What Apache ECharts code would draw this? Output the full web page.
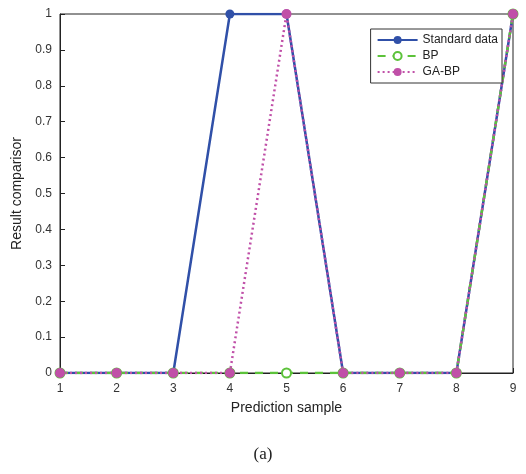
<!DOCTYPE html>
<html><head><meta charset="utf-8">
<script src="https://cdn.jsdelivr.net/npm/echarts@6/dist/echarts.min.js"></script>
<style>html,body{margin:0;padding:0;background:#fff}#c{width:526px;height:474px}</style>
</head><body><div id="c"></div>
<script>
const samples = [1,2,3,4,5,6,7,8,9];
const standardData = [0,0,0,1,1,0,0,0,1];
const bpData = [0,0,0,0,0,0,0,0,1];
const gabpData = [0,0,0,0,1,0,0,0,1];
const yTicks = [0,0.1,0.2,0.3,0.4,0.5,0.6,0.7,0.8,0.9,1];

const pairs = arr => samples.map((x,i)=>[x,arr[i]]);
const chart = echarts.init(document.getElementById('c'));
const font = 'Liberation Sans, Arial, sans-serif';
chart.setOption({
  animation:false,
  backgroundColor:'#fff',
  grid:{left:60,right:13,top:14,bottom:101,show:true,borderColor:'#222',borderWidth:1},
  legend:{
    orient:'vertical', right:24, top:29, itemWidth:40, itemHeight:10, itemGap:4,
    backgroundColor:'#fff', borderColor:'#333', borderWidth:1, padding:[5,4,5,6],
    textStyle:{fontFamily:font,fontSize:12,color:'#222'},
    data:['Standard data','BP','GA-BP']
  },
  xAxis:{type:'value',min:1,max:9,interval:1,
    name:'Prediction sample',nameLocation:'middle',nameGap:28,
    nameTextStyle:{fontFamily:font,fontSize:14,color:'#222'},
    axisLine:{lineStyle:{color:'#222'}},
    axisTick:{inside:true,length:5,lineStyle:{color:'#222'}},
    axisLabel:{fontFamily:font,fontSize:12,color:'#333',margin:10},
    splitLine:{show:false}},
  yAxis:{type:'value',min:0,max:1,interval:0.1,
    name:'Result comparisor',nameLocation:'middle',nameGap:30,
    nameTextStyle:{fontFamily:font,fontSize:14,color:'#222'},
    axisLine:{lineStyle:{color:'#222'}},
    axisTick:{inside:true,length:5,lineStyle:{color:'#222'}},
    axisLabel:{fontFamily:font,fontSize:12,color:'#333',margin:8,
      formatter:v=>{const t=yTicks.find(k=>Math.abs(k-v)<1e-9);return t===undefined?'':String(t);}},
    splitLine:{show:false}},
  series:[
    {name:'Standard data',type:'line',data:pairs(standardData),symbol:'circle',symbolSize:9,
      itemStyle:{color:'#3050a8'},lineStyle:{color:'#3050a8',width:2.5}},
    {name:'BP',type:'line',data:pairs(bpData),symbol:'emptyCircle',symbolSize:9,
      itemStyle:{color:'#5cc23a',borderColor:'#5cc23a',borderWidth:2.5},
      lineStyle:{color:'#5cc23a',width:2.5,type:[8,7]}},
    {name:'GA-BP',type:'line',data:pairs(gabpData),symbol:'circle',symbolSize:10,
      itemStyle:{color:'#c050a8'},lineStyle:{color:'#c050a8',width:2.5,type:[2,3]}}
  ],
  graphic:[{type:'text',left:'center',top:446,style:{text:'(a)',font:'17px "Liberation Serif", "Times New Roman", serif',fill:'#222'}}]
});
</script></body></html>
